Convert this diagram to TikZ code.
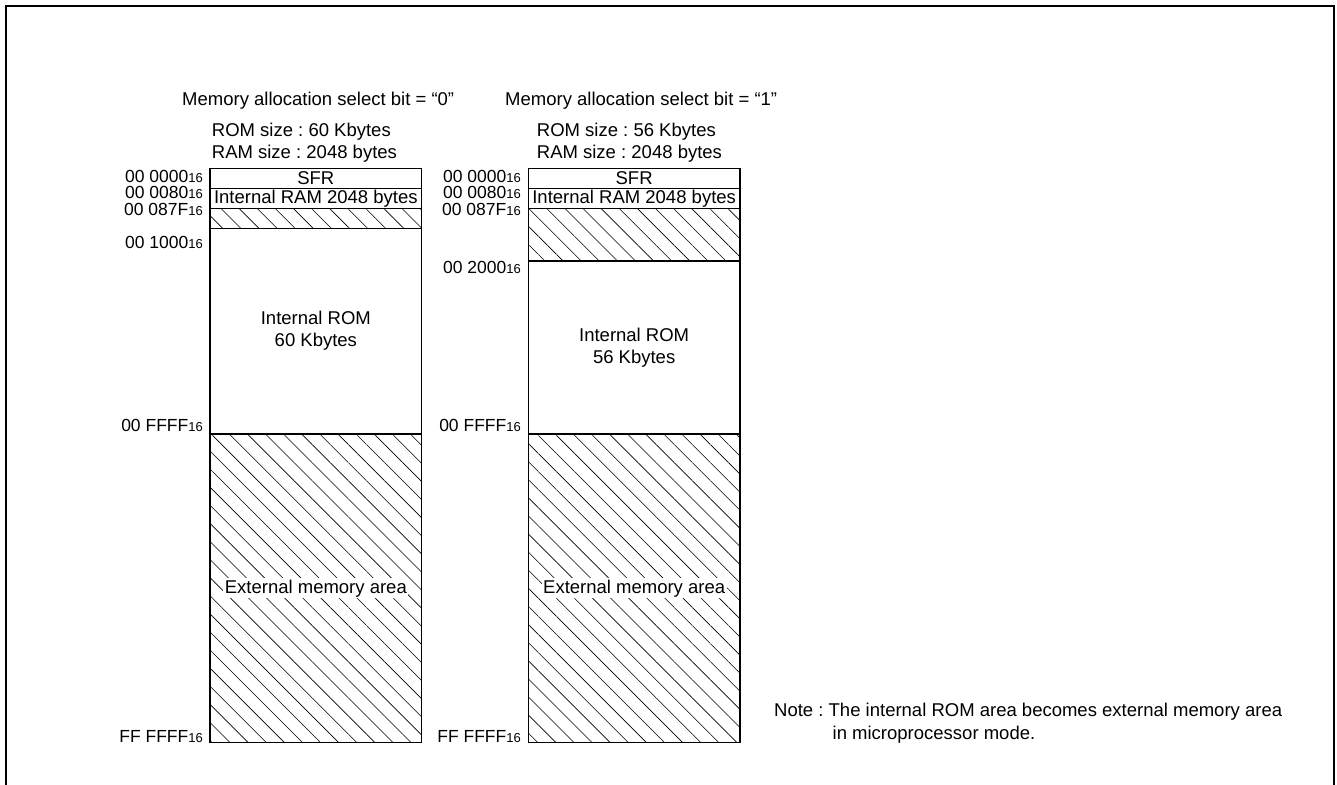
\documentclass[tikz,border=0pt]{standalone}
\usepackage{fontspec}
\setmainfont{Liberation Sans}
\usetikzlibrary{patterns.meta}
\frenchspacing
\newcommand\hexsub[1]{#1{\fontsize{13}{13}\selectfont 16}}
\begin{document}
\begin{tikzpicture}[x=1pt,y=-1pt,
  cell/.style={draw, line width=1.2pt, rectangle, inner sep=0pt, outer sep=0pt,
    anchor=north west, minimum width=211.7pt, font=\fontsize{18.5}{22}\selectfont, align=center},
  hatch/.style={pattern={Lines[angle=-45,distance=12.8pt,line width=0.6pt]}},
  addr/.style={anchor=base east, inner sep=0pt, font=\fontsize{17.5}{17.5}\selectfont},
  head/.style={anchor=base west, inner sep=0pt, font=\fontsize{18.5}{18.5}\selectfont},
  bgtext/.style={fill=white, inner sep=1.5pt, font=\fontsize{18.5}{18.5}\selectfont},
  note/.style={anchor=base west, inner sep=0pt, font=\fontsize{18.5}{18.5}\selectfont}]
\useasboundingbox (0,0) rectangle (1337,784);
\fill[white] (0,0) rectangle (1337,784);
% outer frame
\draw[line width=2pt] (6,800) -- (6,6) -- (1334,6) -- (1334,800);

% headings
\node[head] (h0) at (182,105) {Memory allocation select bit = “0”};
\node[head] (h1) at (505,105) {Memory allocation select bit = “1”};
\node[head] (rom0) at (211.7,136.7) {ROM size : 60 Kbytes};
\node[head] (ram0) at (211.7,158.3) {RAM size : 2048 bytes};
\node[head] (rom1) at (536.7,136.7) {ROM size : 56 Kbytes};
\node[head] (ram1) at (536.7,158.3) {RAM size : 2048 bytes};

% left map
\node[cell, minimum height=20pt] (sfrL) at (210,168.3) {SFR};
\node[cell, minimum height=20pt] (ramL) at (210,188.3) {Internal RAM 2048 bytes};
\node[cell, minimum height=20pt, hatch] (resL) at (210,208.3) {};
\node[cell, minimum height=205.7pt] (romL) at (210,228.3) {Internal ROM\\60 Kbytes};
\node[cell, minimum height=308.7pt, hatch] (extL) at (210,434) {};
\node[bgtext] (extLt) at (extL.center) {External memory area};

% right map
\node[cell, minimum height=20pt] (sfrR) at (528.3,168.3) {SFR};
\node[cell, minimum height=20pt] (ramR) at (528.3,188.3) {Internal RAM 2048 bytes};
\node[cell, minimum height=52.7pt, hatch] (resR) at (528.3,208.3) {};
\node[cell, minimum height=173pt] (romR) at (528.3,261) {Internal ROM\\56 Kbytes};
\node[cell, minimum height=308.7pt, hatch] (extR) at (528.3,434) {};
\node[bgtext] (extRt) at (extR.center) {External memory area};

% left addresses
\node[addr] (aL0) at (203,182.7) {\hexsub{00 0000}};
\node[addr] (aL1) at (203,198.3) {\hexsub{00 0080}};
\node[addr] (aL2) at (203,215) {\hexsub{00 087F}};
\node[addr] (aL3) at (203,248.3) {\hexsub{00 1000}};
\node[addr] (aL4) at (203,431.7) {\hexsub{00 FFFF}};
\node[addr] (aL5) at (203,742) {\hexsub{FF FFFF}};

% right addresses
\node[addr] (aR0) at (521,182.7) {\hexsub{00 0000}};
\node[addr] (aR1) at (521,198.3) {\hexsub{00 0080}};
\node[addr] (aR2) at (521,215) {\hexsub{00 087F}};
\node[addr] (aR3) at (521,273) {\hexsub{00 2000}};
\node[addr] (aR4) at (521,431.7) {\hexsub{00 FFFF}};
\node[addr] (aR5) at (521,742) {\hexsub{FF FFFF}};

% note
\node[note] (n1) at (774,716.5) {Note : The internal ROM area becomes external memory area};
\node[note] (n2) at (832.5,739.5) {in microprocessor mode.};
\end{tikzpicture}
\end{document}
